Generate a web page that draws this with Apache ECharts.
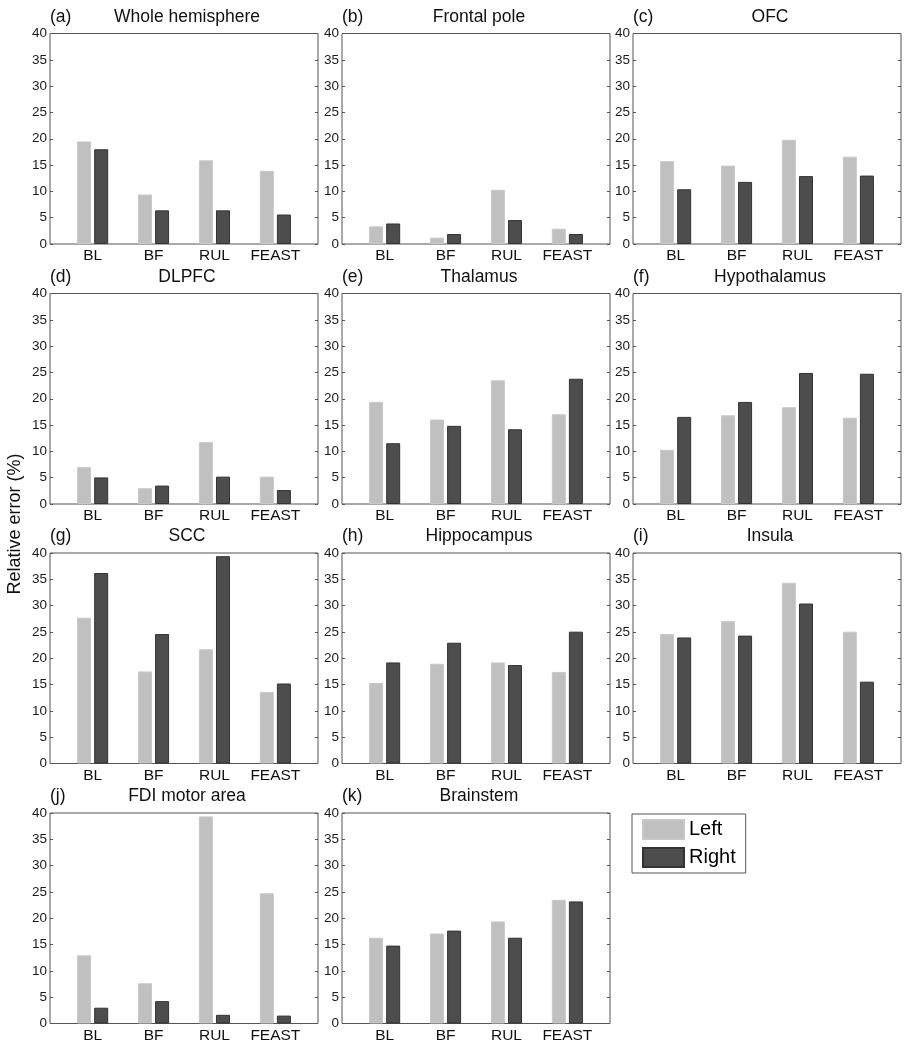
<!DOCTYPE html>
<html>
<head>
<meta charset="utf-8">
<script src="https://cdn.jsdelivr.net/npm/echarts@6/dist/echarts.min.js"></script>
<style>
html,body{margin:0;padding:0;background:#fff;}
#chart{width:910px;height:1050px;}
</style>
</head>
<body>
<div id="chart"></div>
<script>
const categories = ['BL', 'BF', 'RUL', 'FEAST'];
const panelLabels = ['(a)', '(b)', '(c)', '(d)', '(e)', '(f)', '(g)', '(h)', '(i)', '(j)', '(k)'];
const panelTitles = ['Whole hemisphere', 'Frontal pole', 'OFC', 'DLPFC', 'Thalamus', 'Hypothalamus',
  'SCC', 'Hippocampus', 'Insula', 'FDI motor area', 'Brainstem'];
const seriesNames = ['Left', 'Right'];
const leftValues = [
  [19.5, 9.4, 15.9, 13.9],
  [3.35, 1.2, 10.3, 2.9],
  [15.75, 14.9, 19.8, 16.6],
  [7.0, 3.0, 11.75, 5.2],
  [19.4, 16.05, 23.5, 17.05],
  [10.3, 16.85, 18.4, 16.4],
  [27.7, 17.5, 21.7, 13.6],
  [15.3, 18.95, 19.2, 17.4],
  [24.6, 27.05, 34.35, 25.05],
  [12.95, 7.65, 39.35, 24.75],
  [16.3, 17.1, 19.4, 23.5]
];
const rightValues = [
  [18.0, 6.4, 6.4, 5.6],
  [3.9, 1.9, 4.55, 1.9],
  [10.4, 11.8, 12.9, 13.0],
  [5.05, 3.5, 5.2, 2.65],
  [11.55, 14.85, 14.2, 23.8],
  [16.55, 19.4, 24.9, 24.75],
  [36.2, 24.6, 39.4, 15.2],
  [19.2, 22.95, 18.7, 25.05],
  [23.95, 24.3, 30.4, 15.55],
  [3.0, 4.25, 1.65, 1.5],
  [14.8, 17.65, 16.3, 23.2]
];
const yMin = 0, yMax = 40, yInterval = 5;
const yAxisTitle = 'Relative error (%)';

const FONT = "'Liberation Sans', Arial, sans-serif";
const colLefts = [50, 342, 633];
const rowTops = [33.5, 293.5, 553, 813];
const gridW = 268, gridH = 210.5;
const frameColor = '#555';
const colors = ['#c0c0c0', '#4d4d4d'];

const grids = [], xAxes = [], yAxes = [], series = [], graphics = [];
panelTitles.forEach((t, i) => {
  const col = i % 3, row = Math.floor(i / 3);
  const left = colLefts[col], top = rowTops[row];
  grids.push({left: left, top: top, width: gridW, height: gridH, show: true,
    borderColor: frameColor, borderWidth: 1, backgroundColor: 'transparent', containLabel: false});
  xAxes.push({type: 'value', gridIndex: i, min: 0.3, max: 4.7,
    axisLine: {show: false}, axisTick: {show: false}, splitLine: {show: false},
    axisLabel: {customValues: [1, 2, 3, 4], formatter: v => categories[Math.round(v) - 1] || '',
      fontFamily: FONT, fontSize: 15.5, color: '#111', margin: 4}});
  yAxes.push({type: 'value', gridIndex: i, min: yMin, max: yMax, interval: yInterval, position: 'left',
    axisLine: {show: false}, splitLine: {show: false},
    axisTick: {show: true, inside: true, length: 3, lineStyle: {color: frameColor}},
    axisLabel: {fontFamily: FONT, fontSize: 13.5, color: '#1a1a1a', margin: 3}});
  yAxes.push({type: 'value', gridIndex: i, min: yMin, max: yMax, interval: yInterval, position: 'right',
    axisLine: {show: false}, splitLine: {show: false},
    axisTick: {show: true, inside: true, length: 3, lineStyle: {color: frameColor}},
    axisLabel: {show: false}});
  [leftValues, rightValues].forEach((vals, s) => {
    series.push({type: 'bar', name: seriesNames[s], xAxisIndex: i, yAxisIndex: 2 * i,
      barWidth: 14, barGap: '22%', silent: true,
      itemStyle: {color: colors[s], borderColor: s === 0 ? '#c8c8c8' : '#333', borderWidth: 1},
      data: categories.map((c, j) => [j + 1, vals[i][j]])});
  });
  graphics.push({type: 'text', x: left, y: top - 16.5,
    style: {text: panelLabels[i], font: '17.5px ' + FONT, fill: '#111', textAlign: 'left', textVerticalAlign: 'middle'}});
  graphics.push({type: 'text', x: left + gridW / 2 + 3, y: top - 16.5,
    style: {text: t, font: '17.5px ' + FONT, fill: '#111', textAlign: 'center', textVerticalAlign: 'middle'}});
});
graphics.push({type: 'text', x: 15, y: 524, rotation: Math.PI / 2,
  style: {text: yAxisTitle, font: '18px ' + FONT, fill: '#111', textAlign: 'center', textVerticalAlign: 'middle'}});

const chart = echarts.init(document.getElementById('chart'), null, {renderer: 'canvas'});
chart.setOption({
  animation: false,
  backgroundColor: '#fff',
  grid: grids,
  xAxis: xAxes,
  yAxis: yAxes,
  series: series,
  graphic: graphics,
  legend: {data: seriesNames, orient: 'vertical', left: 632, top: 814, icon: 'rect',
    itemWidth: 41, itemHeight: 19, itemGap: 7, padding: [5, 10, 5, 10],
    borderColor: frameColor, borderWidth: 1, backgroundColor: '#fff',
    selectedMode: false,
    textStyle: {fontFamily: FONT, fontSize: 20, color: '#000', padding: [0, 0, 0, 0]}}
});
</script>
</body>
</html>
